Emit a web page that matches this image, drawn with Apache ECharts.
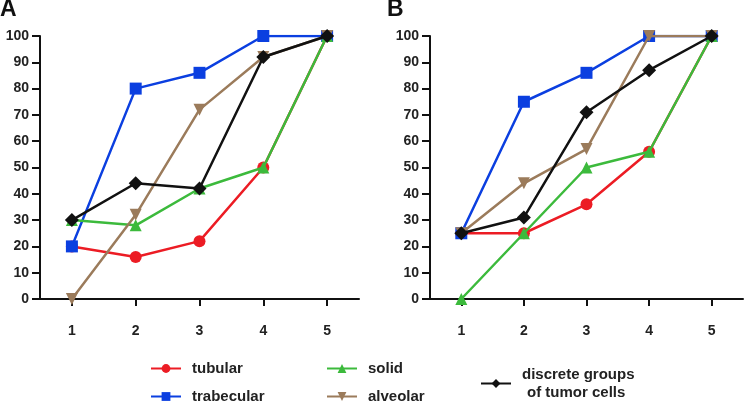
<!DOCTYPE html>
<html>
<head>
<meta charset="utf-8">
<script src="https://cdn.jsdelivr.net/npm/echarts@6/dist/echarts.min.js"></script>
<style>
html,body{margin:0;padding:0;background:#fff;}
#chart{width:745px;height:405px;}
</style>
</head>
<body>
<div id="chart"></div>
<script>
var categories = ['1', '2', '3', '4', '5'];
var yTicks = [0, 10, 20, 30, 40, 50, 60, 70, 80, 90, 100];
var seriesNames = ['tubular', 'trabecular', 'solid', 'alveolar', 'discrete groups of tumor cells'];

var tubularA = [20, 16, 22, 50, 100];
var trabecularA = [20, 80, 86, 100, 100];
var solidA = [30, 28, 42, 50, 100];
var alveolarA = [0, 32, 72, 92, 100];
var discreteA = [30, 44, 42, 92, 100];

var tubularB = [25, 25, 36, 56, 100];
var trabecularB = [25, 75, 86, 100, 100];
var solidB = [0, 25, 50, 56, 100];
var alveolarB = [25, 44, 57, 100, 100];
var discreteB = [25, 31, 71, 87, 100];

var colors = ['#ec1c24', '#0b3fe0', '#3cba3c', '#9b7b5b', '#111111'];
var symbols = ['circle', 'rect', 'triangle', 'triangle', 'diamond'];
var symbolSizes = [12, 12, 12, 12, 14];
var symbolRot = [0, 0, 0, 180, 0];
var FONT = 'Liberation Sans, Arial, sans-serif';
var TICK = '#111';

function mkSeries(i, data, idx) {
  return {
    type: 'line',
    name: seriesNames[i],
    xAxisIndex: idx,
    yAxisIndex: idx,
    data: data,
    symbol: symbols[i],
    symbolSize: symbolSizes[i],
    symbolRotate: symbolRot[i],
    showAllSymbol: true,
    color: colors[i],
    lineStyle: { width: 2.5, color: colors[i] },
    itemStyle: { color: colors[i] },
    z: 2 + i
  };
}

function xAxis(idx) {
  return {
    type: 'category', gridIndex: idx, data: categories, boundaryGap: true,
    axisLine: { lineStyle: { color: '#111', width: 2 } },
    axisTick: { show: true, alignWithLabel: true, length: 7, lineStyle: { color: TICK, width: 2 } },
    axisLabel: { margin: 25, color: '#222', fontFamily: FONT, fontWeight: 'bold', fontSize: 14 }
  };
}
function yAxis(idx) {
  return {
    type: 'value', gridIndex: idx, min: yTicks[0], max: yTicks[yTicks.length - 1], interval: 10,
    axisLine: { show: true, lineStyle: { color: '#111', width: 2 } },
    axisTick: { show: true, length: 8, lineStyle: { color: TICK, width: 2 } },
    splitLine: { show: false },
    axisLabel: { margin: 11, color: '#222', fontFamily: FONT, fontWeight: 'bold', fontSize: 14 }
  };
}
function legend(i, left, top, formatter, rich) {
  var l = {
    data: [seriesNames[i]], left: left, top: top, padding: 0,
    itemWidth: 30, itemHeight: 11, itemGap: 0,
    textStyle: { fontFamily: FONT, fontWeight: 'bold', fontSize: 15, color: '#222', padding: [0, 0, 0, 6] }
  };
  if (formatter) l.formatter = formatter;
  if (rich) l.textStyle.rich = rich;
  return l;
}

var chart = echarts.init(document.getElementById('chart'), null, { renderer: 'canvas' });
chart.setOption({
  animation: false,
  backgroundColor: '#fff',
  title: [
    { text: 'A', left: 0, top: -2, padding: 0, textStyle: { fontFamily: FONT, fontWeight: 'bold', fontSize: 23, color: '#111' } },
    { text: 'B', left: 387, top: -2, padding: 0, textStyle: { fontFamily: FONT, fontWeight: 'bold', fontSize: 23, color: '#111' } }
  ],
  grid: [
    { left: 40, top: 36, width: 319, height: 263 },
    { left: 430, top: 36, width: 313, height: 263 }
  ],
  xAxis: [xAxis(0), xAxis(1)],
  yAxis: [yAxis(0), yAxis(1)],
  legend: [
    legend(0, 150, 361),
    legend(1, 150, 389),
    legend(2, 326, 361),
    legend(3, 326, 389),
    legend(4, 480, 367, function () { return '{a|discrete groups}\n{b|of tumor cells}'; }, {
      a: { fontFamily: FONT, fontWeight: 'bold', fontSize: 15, color: '#222', lineHeight: 18 },
      b: { fontFamily: FONT, fontWeight: 'bold', fontSize: 15, color: '#222', lineHeight: 18, padding: [0, 0, 0, 5] }
    })
  ],
  series: [
    mkSeries(0, tubularA, 0), mkSeries(1, trabecularA, 0), mkSeries(2, solidA, 0), mkSeries(3, alveolarA, 0), mkSeries(4, discreteA, 0),
    mkSeries(0, tubularB, 1), mkSeries(1, trabecularB, 1), mkSeries(2, solidB, 1), mkSeries(3, alveolarB, 1), mkSeries(4, discreteB, 1)
  ]
});
</script>
</body>
</html>
